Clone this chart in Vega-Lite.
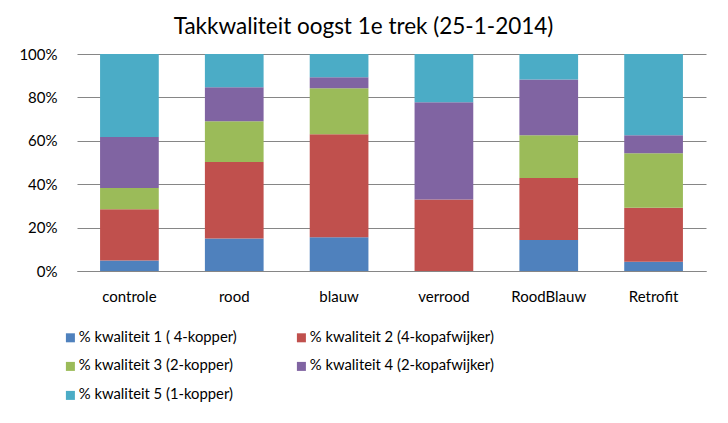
{
  "$schema": "https://vega.github.io/schema/vega-lite/v6.json",
  "width": 629,
  "height": 217,
  "autosize": {"type": "none"},
  "padding": {"left": 77, "top": 54, "right": 22, "bottom": 152},
  "background": "white",
  "title": {"text": "Takkwaliteit oogst 1e trek (25-1-2014)", "font": "Lato", "fontSize": 22.5, "fontWeight": "normal", "color": "#000000", "anchor": "middle", "dx": -28, "offset": 9},
  "data": {"values": [
    {"cat": "controle", "q": "% kwaliteit 1 ( 4-kopper)", "o": 1, "v": 4.8},
    {"cat": "controle", "q": "% kwaliteit 2 (4-kopafwijker)", "o": 2, "v": 23.7},
    {"cat": "controle", "q": "% kwaliteit 3 (2-kopper)", "o": 3, "v": 9.8},
    {"cat": "controle", "q": "% kwaliteit 4 (2-kopafwijker)", "o": 4, "v": 23.4},
    {"cat": "controle", "q": "% kwaliteit 5 (1-kopper)", "o": 5, "v": 38.3},
    {"cat": "rood", "q": "% kwaliteit 1 ( 4-kopper)", "o": 1, "v": 15.0},
    {"cat": "rood", "q": "% kwaliteit 2 (4-kopafwijker)", "o": 2, "v": 35.2},
    {"cat": "rood", "q": "% kwaliteit 3 (2-kopper)", "o": 3, "v": 18.8},
    {"cat": "rood", "q": "% kwaliteit 4 (2-kopafwijker)", "o": 4, "v": 15.7},
    {"cat": "rood", "q": "% kwaliteit 5 (1-kopper)", "o": 5, "v": 15.3},
    {"cat": "blauw", "q": "% kwaliteit 1 ( 4-kopper)", "o": 1, "v": 15.6},
    {"cat": "blauw", "q": "% kwaliteit 2 (4-kopafwijker)", "o": 2, "v": 47.4},
    {"cat": "blauw", "q": "% kwaliteit 3 (2-kopper)", "o": 3, "v": 21.2},
    {"cat": "blauw", "q": "% kwaliteit 4 (2-kopafwijker)", "o": 4, "v": 5.1},
    {"cat": "blauw", "q": "% kwaliteit 5 (1-kopper)", "o": 5, "v": 10.7},
    {"cat": "verrood", "q": "% kwaliteit 1 ( 4-kopper)", "o": 1, "v": 0},
    {"cat": "verrood", "q": "% kwaliteit 2 (4-kopafwijker)", "o": 2, "v": 33.0},
    {"cat": "verrood", "q": "% kwaliteit 3 (2-kopper)", "o": 3, "v": 0},
    {"cat": "verrood", "q": "% kwaliteit 4 (2-kopafwijker)", "o": 4, "v": 44.8},
    {"cat": "verrood", "q": "% kwaliteit 5 (1-kopper)", "o": 5, "v": 22.2},
    {"cat": "RoodBlauw", "q": "% kwaliteit 1 ( 4-kopper)", "o": 1, "v": 14.3},
    {"cat": "RoodBlauw", "q": "% kwaliteit 2 (4-kopafwijker)", "o": 2, "v": 28.5},
    {"cat": "RoodBlauw", "q": "% kwaliteit 3 (2-kopper)", "o": 3, "v": 19.8},
    {"cat": "RoodBlauw", "q": "% kwaliteit 4 (2-kopafwijker)", "o": 4, "v": 25.7},
    {"cat": "RoodBlauw", "q": "% kwaliteit 5 (1-kopper)", "o": 5, "v": 11.7},
    {"cat": "Retrofit", "q": "% kwaliteit 1 ( 4-kopper)", "o": 1, "v": 4.3},
    {"cat": "Retrofit", "q": "% kwaliteit 2 (4-kopafwijker)", "o": 2, "v": 24.8},
    {"cat": "Retrofit", "q": "% kwaliteit 3 (2-kopper)", "o": 3, "v": 25.2},
    {"cat": "Retrofit", "q": "% kwaliteit 4 (2-kopafwijker)", "o": 4, "v": 8.3},
    {"cat": "Retrofit", "q": "% kwaliteit 5 (1-kopper)", "o": 5, "v": 37.4}
  ]},
  "mark": {"type": "bar"},
  "encoding": {
    "x": {
      "field": "cat", "type": "nominal", "sort": null,
      "scale": {"paddingInner": 0.44, "paddingOuter": 0.22},
      "axis": {"title": null, "labelAngle": 0, "labelFont": "Lato", "labelFontSize": 15, "labelColor": "#000000", "ticks": false, "labelPadding": 18, "domainColor": "#868686", "domainWidth": 1, "grid": false}
    },
    "y": {
      "field": "v", "type": "quantitative", "stack": "normalize",
      "scale": {"domain": [0, 1], "nice": false},
      "axis": {"title": null, "values": [0, 0.2, 0.4, 0.6, 0.8, 1], "format": ".0%", "labelFont": "Lato", "labelFontSize": 15, "labelColor": "#000000", "ticks": false, "domain": false, "labelPadding": 20, "grid": true, "gridColor": "#868686", "gridWidth": 1}
    },
    "color": {
      "field": "q", "type": "nominal",
      "scale": {
        "domain": ["% kwaliteit 1 ( 4-kopper)", "% kwaliteit 3 (2-kopper)", "% kwaliteit 5 (1-kopper)", "% kwaliteit 2 (4-kopafwijker)", "% kwaliteit 4 (2-kopafwijker)"],
        "range": ["#4F81BD", "#9BBB59", "#4BACC6", "#C0504D", "#8064A2"]
      },
      "legend": {"title": null, "orient": "none", "legendX": -14, "legendY": 276, "columns": 2, "columnPadding": 57, "rowPadding": 13, "symbolType": "square", "symbolSize": 81, "symbolStrokeWidth": 0, "labelFont": "Lato", "labelFontSize": 14.8, "labelColor": "#000000", "labelOffset": 1, "labelLimit": 400}
    },
    "order": {"field": "o", "type": "quantitative", "sort": "ascending"}
  },
  "config": {"view": {"stroke": null}}
}
